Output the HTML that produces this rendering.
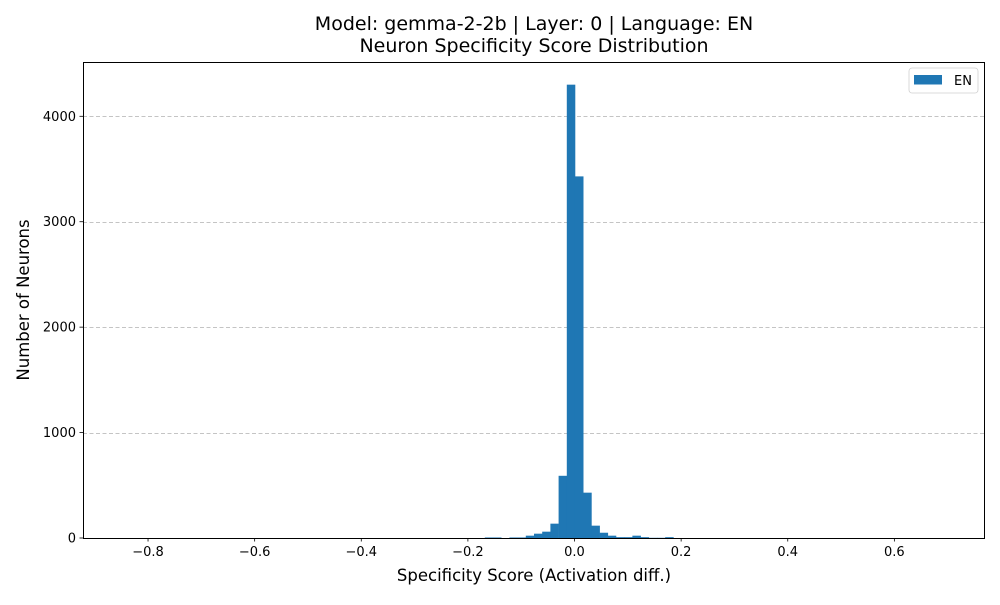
<!DOCTYPE html>
<html><head><meta charset="utf-8"><style>
body{margin:0;background:#fff}
text{font-family:"DejaVu Sans","Liberation Sans",sans-serif}
</style></head><body>
<svg id="c" width="1000" height="600" xmlns="http://www.w3.org/2000/svg"></svg>
<script>
const binStart = -0.845;
const binWidth = 0.01538;
const counts = [0,0,0,0,0,0,0,0,0,0, 0,0,0,0,0,0,0,0,0,0, 0,0,0,0,0,0,0,0,0,0, 0,0,0,0,0,0,0,0,0,0,
 0,0,0,0,5,5,0,5,5,22, 41,60,136,590,4300,3430,430,117,50,22, 8,8,22,8,2,2,8,0,0,0,
 0,0,0,0,0,0,0,0,0,0, 0,0,0,0,0,0,0,0,0,0];
const xTicks = [-0.8,-0.6,-0.4,-0.2,0.0,0.2,0.4,0.6];
const xTickLabels = ["−0.8","−0.6","−0.4","−0.2","0.0","0.2","0.4","0.6"];
const yTicks = [0,1000,2000,3000,4000];
const yTickLabels = ["0","1000","2000","3000","4000"];

const svg = document.getElementById('c');
const NS = 'http://www.w3.org/2000/svg';
const L=83,R=985,T=62,B=538;
const xmin=-0.922,xmax=0.770,ymax=4515;
const sx=v=>L+(v-xmin)/(xmax-xmin)*(R-L);
const sy=v=>B-v/ymax*(B-T);
function mk(tag,attrs,parent){const e=document.createElementNS(NS,tag);for(const k in attrs)e.setAttribute(k,attrs[k]);(parent||svg).appendChild(e);return e;}

const grid=mk('g',{});


yTicks.forEach(v=>{if(v===0)return;const y=Math.round(sy(v))+0.5;mk('line',{x1:L,x2:R,y1:y,y2:y,stroke:'#c4c4c4','stroke-width':1,'stroke-dasharray':'4,2.5'},grid);});

const bars=mk('g',{});


counts.forEach((c,i)=>{if(c<=0)return;const x0=sx(binStart+i*binWidth),x1=sx(binStart+(i+1)*binWidth);
 const r=mk('rect',{x:x0,y:sy(c),width:x1-x0+0.3,height:B-sy(c),fill:'#1f77b4'},bars);
 
 });

const frame=mk('rect',{x:L+0.5,y:T+0.5,width:R-L-1,height:B-T,fill:'none',stroke:'#000','stroke-width':1});



const xa=mk('g',{});


xTicks.forEach((v,i)=>{const x=sx(v);mk('line',{x1:x,x2:x,y1:B,y2:B+3.5,stroke:'#000','stroke-width':0.8},xa);
 const t=mk('text',{x:x,y:B+18,'text-anchor':'middle','font-size':13},xa);t.textContent=xTickLabels[i];});
const ya=mk('g',{});


yTicks.forEach((v,i)=>{const y=sy(v);mk('line',{x1:L-3.5,x2:L,y1:y,y2:y,stroke:'#000','stroke-width':0.8},ya);
 const t=mk('text',{x:L-7,y:y+4.5,'text-anchor':'end','font-size':13},ya);t.textContent=yTickLabels[i];});

let t=mk('text',{x:534,y:581,'text-anchor':'middle','font-size':16.5});t.textContent='Specificity Score (Activation diff.)';

t=mk('text',{x:29,y:300,'text-anchor':'middle','font-size':16.5,transform:'rotate(-90 29 300)'});t.textContent='Number of Neurons';

t=mk('text',{x:534,y:30,'text-anchor':'middle','font-size':19});t.textContent='Model: gemma-2-2b | Layer: 0 | Language: EN';

t=mk('text',{x:534,y:52,'text-anchor':'middle','font-size':19});t.textContent='Neuron Specificity Score Distribution';


const lg=mk('g',{});


mk('rect',{x:909,y:68,width:69,height:25,rx:3,fill:'#fff',stroke:'#d0d0d0','stroke-width':0.8},lg);
mk('rect',{x:914,y:75,width:28,height:9.5,fill:'#1f77b4'},lg);
t=mk('text',{x:954,y:85,'font-size':13},lg);t.textContent='EN';
</script>
</body></html>
